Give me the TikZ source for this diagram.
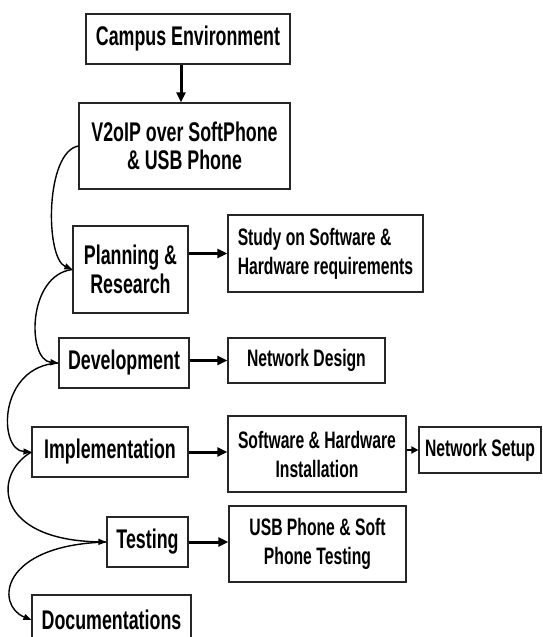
\documentclass[tikz,border=0pt]{standalone}
\usepackage{fontspec}
\setmainfont{Liberation Sans}[FakeStretch=0.66]
\usetikzlibrary{arrows.meta}
\begin{document}
\begin{tikzpicture}[x=1pt,y=-1pt,
  box/.style={draw=black!85, line width=1.2pt, inner sep=0pt, align=center,
    font=\bfseries\fontsize{27}{28.5}\selectfont},
  sbox/.style={box, font=\bfseries\fontsize{23.8}{29}\selectfont},
  harrow/.style={line width=3pt, -{Triangle[length=10pt,width=9pt]}},
  sarrow/.style={line width=2.2pt, -{Triangle[length=7pt,width=7pt]}},
  carrow/.style={line width=1.4pt, -{Triangle[length=8pt,width=6pt]}}]
\useasboundingbox (0,0) rectangle (543,637);
\node[box, minimum width=204, minimum height=50] (camp) at (188,39) {Campus Environment};
\node[box, minimum width=211, minimum height=86] (v2) at (184.5,146) {V2oIP over SoftPhone\\\& USB Phone};
\node[box, minimum width=115, minimum height=87] (plan) at (130.5,269.5) {Planning \&\\Research};
\node[sbox, align=left, minimum width=195, minimum height=77] (study) at (325.5,253.5) {Study on Software \&\\Hardware requirements};
\node[box, minimum width=130, minimum height=50] (dev) at (124,363) {Development};
\node[sbox, minimum width=157, minimum height=45] (nd) at (306.5,360.5) {Network Design};
\node[box, minimum width=156, minimum height=50] (impl) at (110,452) {Implementation};
\node[sbox, minimum width=178, minimum height=76] (inst) at (317,454) {Software \& Hardware\\Installation};
\node[sbox, minimum width=122, minimum height=46] (ns) at (480,450) {Network Setup};
\node[box, minimum width=81, minimum height=50] (test) at (147.5,542) {Testing};
\node[sbox, minimum width=177, minimum height=76] (usb) at (317.5,544) {USB Phone \& Soft\\Phone Testing};
\node[box, minimum width=159, minimum height=50] (doc) at (111.5,620) {Documentations};

\draw[harrow] ([xshift=-7pt]camp.south) -- ([xshift=-3.5pt]v2.north);
\draw[harrow] (plan.east |- study.west) -- (study.west);
\draw[harrow] (dev.east |- nd.west) -- (nd.west);
\draw[harrow] (impl.east) -- (impl.east -| inst.west);
\draw[harrow] (test.east) -- (test.east -| usb.west);
\draw[sarrow] (inst.east |- ns.west) -- (ns.west);

\draw[carrow] (v2.west) .. controls (45,152) and (45,258) .. (plan.west);
\draw[carrow] (plan.west) .. controls (27,275) and (27,360) .. (dev.west);
\draw[carrow] (dev.west) .. controls (-2,366) and (-2,450) .. (impl.west);
\draw[carrow] (impl.west) .. controls (-8,475) and (-5,540) .. (test.west);
\draw[carrow] (test.west) .. controls (0,545) and (-5,605) .. (doc.west);
\end{tikzpicture}
\end{document}
